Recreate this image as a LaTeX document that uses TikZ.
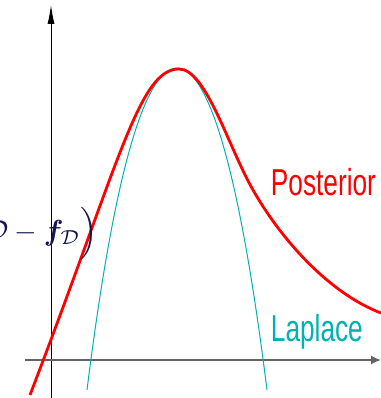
\documentclass[tikz,border=0pt]{standalone}
\usepackage{fontspec}
\usepackage{graphicx}
\usepackage{bm}
\usetikzlibrary{arrows.meta}
\newfontfamily\labfont{Liberation Sans}
\definecolor{postred}{RGB}{255,0,0}
\definecolor{lapcyan}{RGB}{0,178,178}
\definecolor{navy}{RGB}{20,20,80}
\definecolor{axgray}{RGB}{100,100,100}
\tikzset{
  curvelabel/.style={inner sep=0pt, anchor=base west, font=\fontsize{37.5}{40}\labfont},
  posterior/.style={draw=postred, line width=2.8pt, line join=round},
  laplace/.style={draw=lapcyan, line width=1pt},
}
\begin{document}
\begin{tikzpicture}[x=1pt,y=-1pt]
\useasboundingbox (0,0) rectangle (380,398);
% axes
\coordinate (ybot) at (51,398);
\coordinate (ytop) at (51,5);
\coordinate (xl) at (25,360);
\coordinate (xr) at (381,360);
\draw[line width=0.9pt,-{Latex[length=19pt,width=7pt]}] (ybot) -- (ytop);
\draw[axgray,line width=1.6pt,-{Latex[length=10pt,width=9pt]}] (xl) -- (xr);
% Laplace approximation
\draw[laplace] plot[domain=-9:9,samples=80,smooth] ({177+10*\x},{68+3.503*\x*\x+0.00583*\x*\x*\x*\x});
% posterior
\coordinate (p0) at (30,395);
\coordinate (pk) at (179,69);
\coordinate (pm) at (253,190);
\coordinate (pe) at (381,313);
\draw[posterior] (p0) .. controls (120,161) and (139,69) .. (pk)
  .. controls (206,69) and (228,146.25) .. (pm)
  .. controls (283,242.5) and (331,294) .. (pe);
% labels
\node[curvelabel,text=postred] (post) at (270.7,195) {\scalebox{0.70}[1]{Posterior}};
\node[curvelabel,text=lapcyan] (lap) at (270.7,341) {\scalebox{0.70}[1]{Laplace}};
\node[inner sep=0pt,anchor=east,text=navy] (expr) at (98,233) {\scalebox{2.9}{$\mathcal{D}-\bm{f}_{\mathcal{D}}\Big)$}};
\end{tikzpicture}
\end{document}
